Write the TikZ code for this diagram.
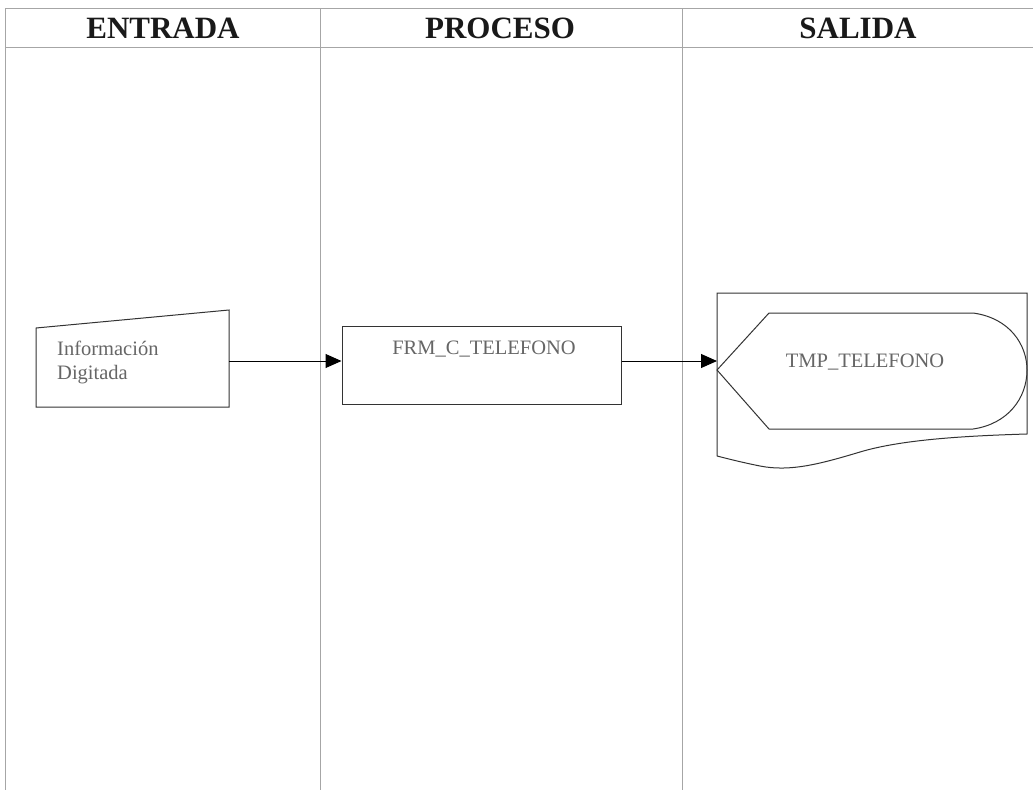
\documentclass[tikz,border=0pt]{standalone}
\usepackage{fontspec}
\setmainfont{Liberation Serif}
\usetikzlibrary{arrows.meta}
\begin{document}
\begin{tikzpicture}[x=1pt,y=-1pt,
  lane/.style={draw=black!35,line width=0.9pt},
  shp/.style={draw=black!80,line width=1pt},
  hdr/.style={font=\fontsize{31}{33}\selectfont\bfseries,text=black!90},
  lbl/.style={font=\fontsize{20.5}{24}\selectfont,text=black!60,align=left},
  conn/.style={draw=black,line width=1pt,-{Triangle[length=16pt,width=14pt]}}]
\useasboundingbox (0,0) rectangle (1033,790);
\fill[white] (0,0) rectangle (1033,790);
% lanes
\draw[lane] (5,8) -- (1033,8);
\draw[lane] (5,47) -- (1033,47);
\draw[lane] (5,8) -- (5,790);
\draw[lane] (320,8) -- (320,790);
\draw[lane] (682,8) -- (682,790);
\node[hdr] (h1) at (163,28) {ENTRADA};
\node[hdr] (h2) at (500,28) {PROCESO};
\node[hdr] (h3) at (858,28) {SALIDA};
% manual input
\draw[shp] (36,328) -- (229,310) -- (229,407) -- (36,407) -- cycle;
\coordinate (inR) at (229,361);
\node[lbl,anchor=north west,inner sep=0pt] (inT) at (57,341) {Información\\Digitada};
% process
\node[shp,minimum width=279pt,minimum height=78pt,inner sep=0pt] (proc) at (481.5,365) {};
\node[lbl,anchor=north,inner sep=0pt] (procT) at (484,341) {FRM\_C\_TELEFONO};
% salida document
\draw[shp] (717,456) -- (717,293) -- (1027,293) -- (1027,434)
  .. controls (960,436) and (900,440) .. (860,452)
  .. controls (820,464) and (790,472) .. (760,466)
  .. controls (740,462) and (725,458) .. (717,456);
\draw[shp] (717,370) -- (769,313) -- (973,313)
  .. controls (1010,318) and (1027,345) .. (1027,370)
  .. controls (1027,398) and (1008,424) .. (973,429)
  -- (769,429) -- cycle;
\coordinate (outL) at (717,361);
\node[lbl,inner sep=0pt] (outT) at (865,362) {TMP\_TELEFONO};
% connectors
\draw[conn] (inR) -- (proc.west |- inR);
\draw[conn] (proc.east |- outL) -- (outL);
\end{tikzpicture}
\end{document}
